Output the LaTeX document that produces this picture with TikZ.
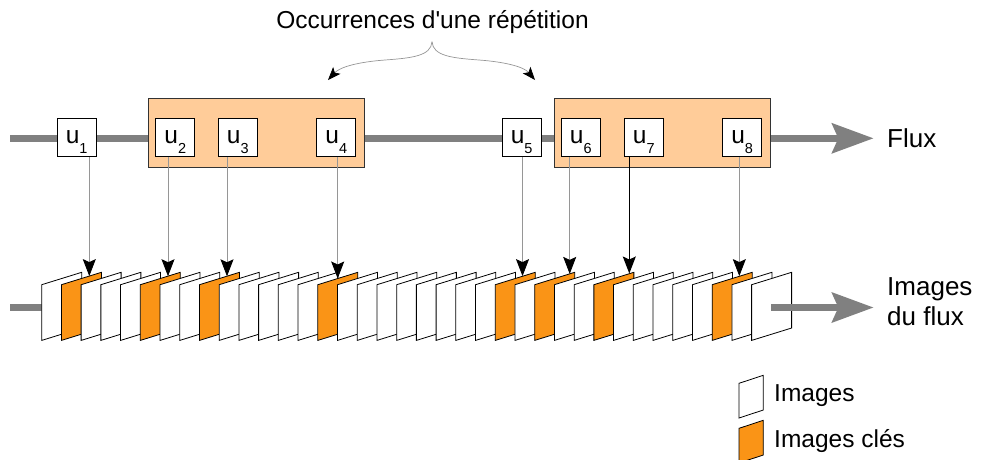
\documentclass[tikz,border=0pt]{standalone}
\usepackage{fontspec}
\setmainfont{Liberation Sans}
\usetikzlibrary{arrows.meta}

\definecolor{keyorange}{RGB}{250,148,22}
\definecolor{occpeach}{RGB}{255,204,153}
\definecolor{fluxgray}{RGB}{128,128,128}
\definecolor{linkgray}{RGB}{150,150,150}

\newcommand{\ulab}[1]{u\raisebox{-10pt}{\fontsize{14.5}{14.5}\selectfont #1}}

\begin{document}
\begin{tikzpicture}[x=1pt,y=-1pt,
	txt/.style={font=\fontsize{24.5}{30}\selectfont, inner sep=0pt},
	bigtxt/.style={font=\fontsize{26}{30}\selectfont, inner sep=0pt},
	ubox/.style={draw=black, fill=white, line width=0.8pt, inner sep=0pt,
		minimum width=39pt, minimum height=38pt,
		font=\fontsize{24.5}{24.5}\selectfont, text height=21.6pt, text depth=10pt},
	occbox/.style={draw=black!80, fill=occpeach, line width=0.8pt, minimum height=69pt},
	frame/.style={draw=black, line width=0.8pt},
	flux/.style={fluxgray, line width=7pt},
	fluxarrow/.style={flux, -{Stealth[length=42pt,width=31pt,inset=7pt,line width=0pt]}},
	link/.style={linkgray, line width=0.8pt, -{Stealth[length=17pt,width=13pt,inset=3pt,black]}},
	brace/.style={linkgray, line width=0.7pt, -{Stealth[length=13pt,width=10pt,inset=3pt,black]}}]

	\useasboundingbox (0,0) rectangle (981,459);

	% flux line
	\coordinate (fs) at (10,138.3);
	\coordinate (fe) at (873.3,138.3);
	\draw[fluxarrow] (fs) -- (fe);

	% node definitions
	\node[occbox, minimum width=216pt] (occ1) at (256.3,132.8) {};
	\node[occbox, minimum width=216.7pt] (occ2) at (662.4,132.8) {};

	\node[ubox] (u1) at (76.7,137.5) {\ulab{1}};
	\node[ubox] (u2) at (175.3,137.5) {\ulab{2}};
	\node[ubox] (u3) at (237.8,137.5) {\ulab{3}};
	\node[ubox] (u4) at (336.3,137.5) {\ulab{4}};
	\node[ubox] (u5) at (521.7,137.5) {\ulab{5}};
	\node[ubox] (u6) at (580.8,137.5) {\ulab{6}};
	\node[ubox] (u7) at (643.8,137.5) {\ulab{7}};
	\node[ubox] (u8) at (742.2,137.5) {\ulab{8}};

	\node[bigtxt, anchor=base west] (flux) at (887,147.3) {Flux};
	\node[txt, anchor=base] (rep) at (432.5,28) {Occurrences d\textquotesingle une répétition};
	\node[bigtxt, anchor=west, align=left] (imgs) at (887,302) {Images\\du flux};

	% repetition brace
	\coordinate (brc) at (432,41.7);
	\coordinate (repl) at (328,80);
	\coordinate (repr) at (535,80);
	\draw[brace] (brc) .. controls (431,56) and (412,58) .. (385,60)
		.. controls (358,62) and (340,67) .. (repl);
	\draw[brace] (brc) .. controls (433,56) and (452,58) .. (479,60)
		.. controls (506,62) and (524,67) .. (repr);

	% frames of the stream
	\coordinate (is) at (10,307.5);
	\coordinate (i0) at (41.7,307.5);
	\draw[flux] (is) -- (i0);
	\foreach \i in {0,...,36}{
		\def\fcol{white}
		\foreach \k in {1,5,8,14,23,25,28,34}{\ifnum\i=\k\relax\xdef\fcol{keyorange}\fi}
		\draw[frame, fill=\fcol] (41.7+19.72*\i,284.7) -- ++(40,-12.4) -- ++(0,55.7) -- ++(-40,12.4) -- cycle;
	}
	\coordinate (ia) at (771,307.5);
	\coordinate (ie) at (873.3,307.5);
	\draw[fluxarrow] (ia) -- (ie);

	% arrow targets on the key frames
	\coordinate (t1) at (89.3,276.1);
	\coordinate (t2) at (168,276.2);
	\coordinate (t3) at (227,276.3);
	\coordinate (t4) at (337.7,278.5);
	\coordinate (t5) at (522.5,276.1);
	\coordinate (t6) at (569.7,273.9);
	\coordinate (t7) at (629.3,273.5);
	\coordinate (t8) at (739.3,276.1);

	% arrows
	\draw[link] (u1.south -| t1) -- (t1);
	\draw[link] (u2.south -| t2) -- (t2);
	\draw[link] (u3.south -| t3) -- (t3);
	\draw[link] (u4.south -| t4) -- (t4);
	\draw[link] (u5.south -| t5) -- (t5);
	\draw[link] (u6.south -| t6) -- (t6);
	\draw[link, draw=black, line width=1.2pt] (u7.south -| t7) -- (t7);
	\draw[link] (u8.south -| t8) -- (t8);

	% legend
	\draw[frame, fill=white] (739,383.3) -- (763.3,375.3) -- (763.3,410) -- (739,418) -- cycle;
	\draw[frame, fill=keyorange] (739,428.3) -- (763.3,420.3) -- (763.3,455) -- (739,463) -- cycle;
	\node[txt, anchor=base west] (limg) at (774,401.7) {Images};
	\node[txt, anchor=base west] (lkey) at (774,447.3) {Images clés};

\end{tikzpicture}
\end{document}
